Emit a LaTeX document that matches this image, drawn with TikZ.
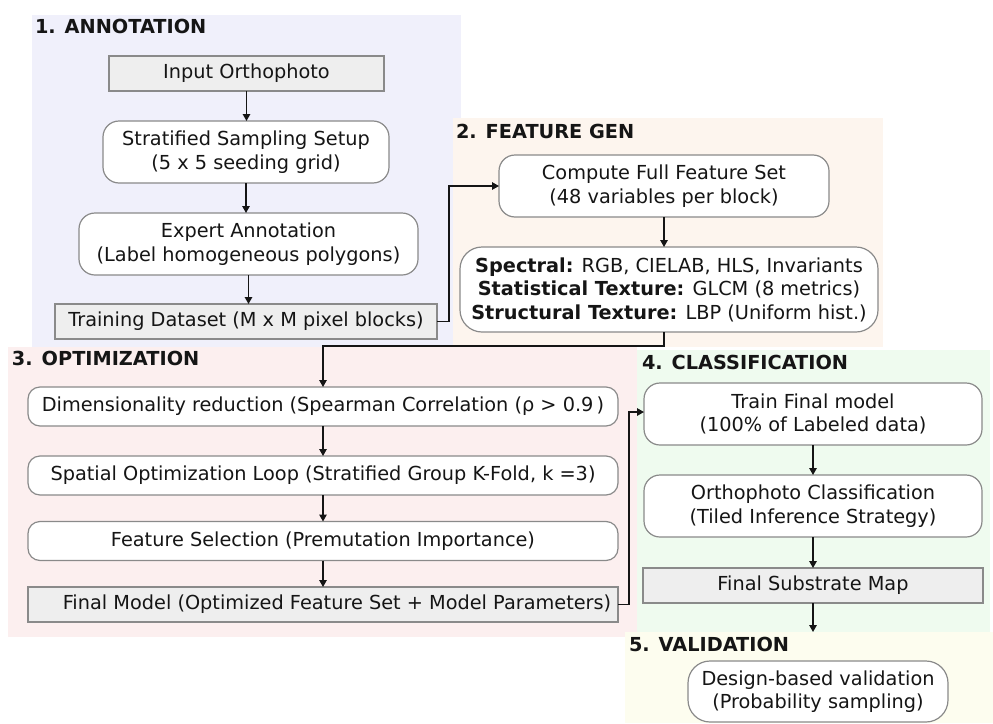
\documentclass[tikz,border=0pt]{standalone}
\usepackage{fontspec}
\setmainfont{DejaVu Sans}
\usetikzlibrary{arrows.meta}

\definecolor{pA}{HTML}{F0F0FB}
\definecolor{pB}{HTML}{FDF5EE}
\definecolor{pC}{HTML}{FCEFEF}
\definecolor{pD}{HTML}{EFFBEF}
\definecolor{pE}{HTML}{FDFDEF}
\definecolor{edge}{HTML}{8A8A8A}
\definecolor{boxgray}{HTML}{EEEEEE}
\definecolor{ink}{HTML}{151515}

\begin{document}
\begin{tikzpicture}[x=1pt,y=-1pt,
  every node/.style={font=\fontsize{19.3}{23.5}\selectfont, inner sep=0pt, outer sep=0pt, text=ink},
  panel/.style={anchor=north west, draw=none},
  title/.style={anchor=base west, font=\fontsize{19.3}{23.5}\selectfont\bfseries},
  rbox/.style={draw=edge, line width=1.2pt, fill=white, rounded corners=16pt, align=center},
  sbox/.style={rbox, rounded corners=12pt, minimum width=590, minimum height=39},
  gbox/.style={draw=edge, line width=1.2pt, fill=boxgray, align=center},
  arr/.style={draw=ink, line width=1.4pt, -{Triangle[length=7pt,width=7.5pt]}}
]
\useasboundingbox (0,0) rectangle (993,723);

% stage panels
\node[panel, fill=pA, minimum width=429, minimum height=332] (p1) at (32,15) {};
\node[panel, fill=pB, minimum width=430, minimum height=229] (p2) at (453,118) {};
\node[panel, fill=pC, minimum width=629, minimum height=290] (p3) at (8,347) {};
\node[panel, fill=pD, minimum width=353, minimum height=282] (p4) at (637,350) {};
\node[panel, fill=pE, minimum width=368, minimum height=91] (p5) at (625,632) {};

% stage titles
\node[title] at (35,33) {1. ANNOTATION};
\node[title] at (456,138) {2. FEATURE GEN};
\node[title] at (12,365) {3. OPTIMIZATION};
\node[title] at (642,369) {4. CLASSIFICATION};
\node[title] at (629,651) {5. VALIDATION};

% 1. annotation
\node[gbox, minimum width=275, minimum height=35] (inp) at (246.5,73.5) {Input Orthophoto};
\node[rbox, minimum width=286, minimum height=62] (strat) at (246,152) {Stratified Sampling Setup\\(5 x 5 seeding grid)};
\node[rbox, minimum width=339, minimum height=62] (expert) at (248.5,244) {Expert Annotation\\(Label homogeneous polygons)};
\node[gbox, minimum width=382, minimum height=35] (train) at (246,321.5) {Training Dataset (M x M pixel blocks)};

% 2. feature generation
\node[rbox, minimum width=330, minimum height=62] (comp) at (664,186) {Compute Full Feature Set\\(48 variables per block)};
\node[rbox, rounded corners=22pt, minimum width=418, minimum height=85] (spec) at (669,289.5)
  {\textbf{Spectral:} RGB, CIELAB, HLS, Invariants\\
   \textbf{Statistical Texture:} GLCM (8 metrics)\\
   \textbf{Structural Texture:} LBP (Uniform hist.)};

% 3. optimization
\node[sbox] (dim) at (323,406.5) {Dimensionality reduction (Spearman Correlation (ρ > 0.9\,)};
\node[sbox] (spat) at (323,475.5) {Spatial Optimization Loop (Stratified Group K-Fold, k =3)};
\node[sbox] (fsel) at (323,541) {Feature Selection (Premutation Importance)};
\node[gbox, minimum width=590, minimum height=35] (final) at (323,604.5) {\hspace*{28pt}Final Model (Optimized Feature Set + Model Parameters)};

% 4. classification
\node[rbox, minimum width=338, minimum height=62] (trainf) at (813,414) {Train Final model\\(100\% of Labeled data)};
\node[rbox, minimum width=338, minimum height=62] (ortho) at (813,506) {Orthophoto Classification\\(Tiled Inference Strategy)};
\node[gbox, minimum width=340, minimum height=35] (map) at (813,585.5) {Final Substrate Map};

% 5. validation
\node[rbox, rounded corners=22pt, minimum width=260, minimum height=61] (val) at (818,691.5) {Design-based validation\\(Probability sampling)};

% connectors
\draw[arr] (inp.south) -- (inp.south |- strat.north);
\draw[arr] (strat.south) -- (strat.south |- expert.north);
\draw[arr] (expert.south) -- (expert.south |- train.north);
\draw[arr] (train.east) -- ++(12,0) |- (comp.west);
\draw[arr] (comp.south) -- (comp.south |- spec.north);
\draw[arr] (spec.south -| comp.south) -- ++(0,14) -| (dim.north);
\draw[arr] (dim.south) -- (spat.north);
\draw[arr] (spat.south) -- (fsel.north);
\draw[arr] (fsel.south) -- (final.north);
\draw[arr] (final.east) -- ++(11,0) |- ([yshift=2pt]trainf.west);
\draw[arr] (trainf.south) -- (ortho.north);
\draw[arr] (ortho.south) -- (map.north);
\draw[arr] (map.south) -- (map.south |- p5.north);
\end{tikzpicture}
\end{document}
